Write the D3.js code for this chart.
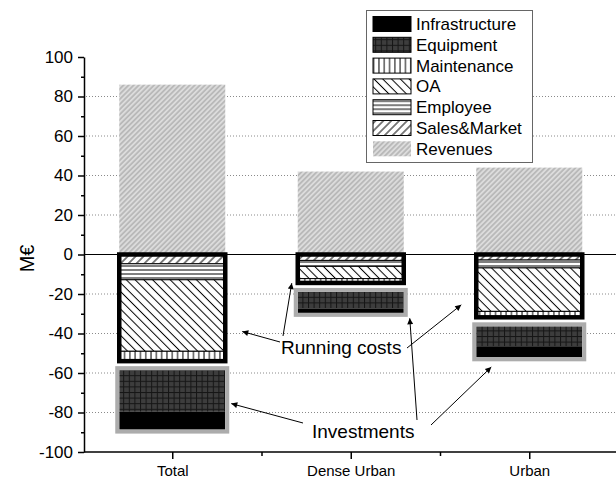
<!DOCTYPE html>
<html>
<head>
<meta charset="utf-8">
<script src="https://cdn.jsdelivr.net/npm/d3@7"></script>
<style>
  body { margin: 0; background: #fff; }
  svg { display: block; font-family: "Liberation Sans", Arial, sans-serif; }
</style>
</head>
<body>
<div id="chart"></div>
<script>
// data (M€)
const categories = ["Total", "Dense Urban", "Urban"];
const revenues = [86, 42, 44];
const salesMarket = [4.7, 3, 2.8];
const employee = [8.1, 3, 4];
const oa = [36.2, 6.2, 22];
const maintenance = [5, 2.2, 3];
const equipment = [21.1, 8.4, 10.1];
const infrastructure = [9, 2.2, 5.6];
const yTicks = [-100, -80, -60, -40, -20, 0, 20, 40, 60, 80, 100];
const yMinor = [-90, -70, -50, -30, -10, 10, 30, 50, 70, 90];
const legendLabels = ["Infrastructure", "Equipment", "Maintenance", "OA", "Employee", "Sales&Market", "Revenues"];

const W = 616, H = 480;
const svg = d3.select("#chart").append("svg").attr("width", W).attr("height", H);

const x = d3.scaleLinear().domain([0.5, 3.5]).range([83, 618.5]);
const y = d3.scaleLinear().domain([-100, 100]).range([452, 57]);
const bw = 106;
const gap = 9; // white space between running box and investment box

// patterns
const defs = svg.append("defs");
function linePattern(id, size, angle, bg, stroke, sw) {
  const p = defs.append("pattern").attr("id", id)
    .attr("patternUnits", "userSpaceOnUse")
    .attr("width", size).attr("height", size)
    .attr("patternTransform", `rotate(${angle})`);
  p.append("rect").attr("width", size).attr("height", size).attr("fill", bg);
  p.append("line").attr("x1", size / 2).attr("x2", size / 2)
    .attr("y1", 0).attr("y2", size)
    .attr("stroke", stroke).attr("stroke-width", sw);
}
linePattern("pRev", 3.6, 45, "#b9b9b9", "#f2f2f2", 1.1);
linePattern("pSales", 5.6, 45, "#fff", "#000", 1);
linePattern("pOA", 6.2, -45, "#fff", "#000", 1);
linePattern("pEmp", 4, 90, "#fff", "#000", 1);
linePattern("pMaint", 5.3, 0, "#fff", "#000", 1);
{
  const s = 5.6;
  const p = defs.append("pattern").attr("id", "pEquip")
    .attr("patternUnits", "userSpaceOnUse").attr("width", s).attr("height", s);
  p.append("rect").attr("width", s).attr("height", s).attr("fill", "#3d3d3d");
  p.append("line").attr("x1", 0.5).attr("x2", 0.5).attr("y1", 0).attr("y2", s)
    .attr("stroke", "#151515").attr("stroke-width", 1);
  p.append("line").attr("y1", 0.5).attr("y2", 0.5).attr("x1", 0).attr("x2", s)
    .attr("stroke", "#151515").attr("stroke-width", 1);
}
defs.append("marker").attr("id", "arrow")
  .attr("viewBox", "0 0 10 10").attr("refX", 10).attr("refY", 5)
  .attr("markerWidth", 10).attr("markerHeight", 6)
  .attr("markerUnits", "userSpaceOnUse").attr("orient", "auto")
  .append("path").attr("d", "M0,0L10,5L0,10z").attr("fill", "#000");

const fills = {
  sales: "url(#pSales)", employee: "url(#pEmp)", oa: "url(#pOA)",
  maintenance: "url(#pMaint)", equipment: "url(#pEquip)", infrastructure: "#000"
};

// grid
svg.append("g").selectAll("line")
  .data(yTicks.filter(v => v !== 0 && Math.abs(v) !== 100))
  .enter().append("line")
  .attr("x1", 86).attr("x2", W)
  .attr("y1", d => y(d)).attr("y2", d => y(d))
  .attr("stroke", "#8a8a8a").attr("stroke-width", 1)
  .attr("stroke-dasharray", "1,2");

// stacked costs (negative)
const runKeys = ["sales", "employee", "oa", "maintenance"];
const invKeys = ["equipment", "infrastructure"];
const table = categories.map((c, i) => ({
  cat: i + 1,
  sales: -salesMarket[i], employee: -employee[i], oa: -oa[i],
  maintenance: -maintenance[i], equipment: -equipment[i], infrastructure: -infrastructure[i]
}));
const series = d3.stack().keys(runKeys.concat(invKeys))
  .offset(d3.stackOffsetDiverging)(table);

// revenues
svg.append("g").selectAll("rect")
  .data(revenues)
  .enter().append("rect")
  .attr("x", (d, i) => x(i + 1) - bw / 2)
  .attr("width", bw)
  .attr("y", d => y(d))
  .attr("height", d => y(0) - y(d))
  .attr("fill", "url(#pRev)");

// zero line
svg.append("line").attr("x1", 84).attr("x2", W)
  .attr("y1", y(0)).attr("y2", y(0))
  .attr("stroke", "#000").attr("stroke-width", 1.2);

series.forEach(s => {
  const isInv = invKeys.includes(s.key);
  svg.append("g").selectAll("rect")
    .data(s)
    .enter().append("rect")
    .attr("x", d => x(d.data.cat) - bw / 2)
    .attr("width", bw)
    .attr("y", d => y(Math.max(d[0], d[1])) + (isInv ? gap : 0))
    .attr("height", d => Math.abs(y(d[0]) - y(d[1])))
    .attr("fill", fills[s.key])
    .attr("stroke", isInv ? "none" : "#000")
    .attr("stroke-width", 1);
});

// boxes around running costs and investments
const runTotals = table.map(r => runKeys.reduce((a, k) => a + r[k], 0));
const invTotals = table.map(r => invKeys.reduce((a, k) => a + r[k], 0));
svg.append("g").selectAll("rect")
  .data(runTotals)
  .enter().append("rect")
  .attr("x", (d, i) => x(i + 1) - bw / 2)
  .attr("width", bw)
  .attr("y", y(0))
  .attr("height", d => y(d) - y(0))
  .attr("fill", "none").attr("stroke", "#000").attr("stroke-width", 4.5);
svg.append("g").selectAll("rect")
  .data(invTotals)
  .enter().append("rect")
  .attr("x", (d, i) => x(i + 1) - bw / 2 - 2)
  .attr("width", bw + 4)
  .attr("y", (d, i) => y(runTotals[i]) + gap - 2)
  .attr("height", (d, i) => y(runTotals[i] + d) - y(runTotals[i]) + 4)
  .attr("fill", "none").attr("stroke", "#acacac").attr("stroke-width", 4);

// axes
const yAxis = svg.append("g").attr("transform", "translate(84,0)")
  .call(d3.axisLeft(y).tickValues(yTicks).tickSize(6).tickSizeOuter(0).tickPadding(5)
    .tickFormat(d => String(d)));
svg.append("g").attr("transform", "translate(84,0)")
  .call(d3.axisLeft(y).tickValues(yMinor).tickSize(3).tickFormat(""))
  .select(".domain").remove();
const xAxis = svg.append("g").attr("transform", `translate(0,${y(-100)})`)
  .call(d3.axisBottom(x).tickValues([1, 2, 3]).tickSize(7).tickSizeOuter(0)
    .tickPadding(6).tickFormat(d => categories[d - 1]));
svg.append("g").attr("transform", `translate(0,${y(-100)})`)
  .call(d3.axisBottom(x).tickValues([1.5, 2.5]).tickSize(4).tickFormat(""))
  .select(".domain").remove();
svg.selectAll(".domain, .tick line").attr("stroke", "#000").attr("stroke-width", 1.5);
xAxis.select(".domain").attr("d", `M84,0H${W}`);
yAxis.selectAll("text").attr("font-size", 17).attr("fill", "#000").attr("font-family", null);
xAxis.selectAll("text").attr("font-size", 15).attr("fill", "#000").attr("font-family", null);

svg.append("text")
  .attr("transform", `translate(34,${y(-2)}) rotate(-90)`)
  .attr("text-anchor", "middle")
  .attr("font-size", 20)
  .text("M€");

// annotations
const annotations = [
  {
    label: "Running costs", tx: 281, ty: 354,
    arrows: [
      [280, 342, x(1) + bw / 2 + 17, y(-39)],
      [283, 336, x(2) - bw / 2 - 6, y(-14.5)],
      [407, 348, x(3) - bw / 2 - 15, y(-25.5)]
    ]
  },
  {
    label: "Investments", tx: 312, ty: 438,
    arrows: [
      [303, 423, x(1) + bw / 2 + 6, y(-75.5)],
      [417, 420, x(2) + bw / 2 + 6, y(-32.3)],
      [431, 425, x(3) - bw / 2 + 15, y(-57)]
    ]
  }
];
annotations.forEach(a => {
  svg.append("g").selectAll("line")
    .data(a.arrows)
    .enter().append("line")
    .attr("x1", d => d[0]).attr("y1", d => d[1])
    .attr("x2", d => d[2]).attr("y2", d => d[3])
    .attr("stroke", "#000").attr("stroke-width", 1)
    .attr("marker-end", "url(#arrow)");
  svg.append("text").attr("x", a.tx).attr("y", a.ty)
    .attr("font-size", 19).text(a.label);
});

// legend
const legendFills = ["#000", "url(#pEquip)", "url(#pMaint)", "url(#pOA)", "url(#pEmp)", "url(#pSales)", "url(#pRev)"];
const lg = svg.append("g");
lg.append("rect").attr("x", 366.5).attr("y", 10.5).attr("width", 166).attr("height", 152)
  .attr("fill", "#fff").attr("stroke", "#666").attr("stroke-width", 1);
const rows = lg.selectAll("g.row")
  .data(legendLabels)
  .enter().append("g")
  .attr("class", "row")
  .attr("transform", (d, i) => `translate(0,${24 + i * 20.8})`);
rows.append("rect")
  .attr("x", 373).attr("y", -7.5).attr("width", 38).attr("height", 15)
  .attr("fill", (d, i) => legendFills[i])
  .attr("stroke", (d, i) => i === 6 ? "none" : "#000")
  .attr("stroke-width", 1);
rows.append("text")
  .attr("x", 416).attr("y", 6)
  .attr("font-size", 17)
  .text(d => d);
</script>
</body>
</html>
